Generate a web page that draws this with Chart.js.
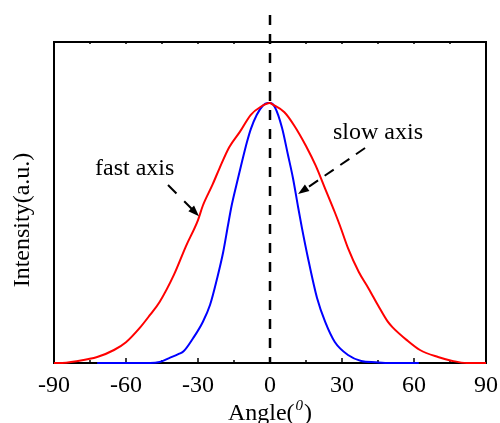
<!DOCTYPE html>
<html>
<head>
<meta charset="utf-8">
<script src="https://cdn.jsdelivr.net/npm/chart.js@4.4.1/dist/chart.umd.min.js"></script>
<style>
  body { margin: 0; background: #fff; }
  #wrap { width: 500px; height: 423px; position: relative; }
</style>
</head>
<body>
<div id="wrap"><canvas id="angleChart"></canvas></div>
<script>
// fast axis (red, wide) - angle in degrees / normalized intensity
const fastAngles = [-90, -88, -80, -72, -65, -60, -54, -50, -46, -40, -35, -30, -28, -24, -21, -17, -12.5, -8, -4, 0,
                    1, 6, 10, 15, 19, 23, 27, 29.2, 32.5, 37, 41, 45, 49, 51, 57, 62.5, 70, 76, 82, 90];
const fastIntensity = [0, 0, 0.008, 0.023, 0.05, 0.08, 0.138, 0.185, 0.235, 0.34, 0.45, 0.55, 0.605, 0.685, 0.75, 0.83, 0.89, 0.955, 0.985, 1,
                       0.995, 0.965, 0.915, 0.835, 0.76, 0.67, 0.58, 0.527, 0.442, 0.35, 0.288, 0.222, 0.16, 0.138, 0.088, 0.05, 0.023, 0.008, 0, 0];

// slow axis (blue, narrow)
const slowAngles = [-72, -50, -46, -42, -38, -36, -32, -28, -25, -22, -19.5, -17.5, -16, -14, -11.7, -9.6, -8, -5.5, -3, -1, 0,
                    2, 5, 7.5, 9.6, 11.7, 13.3, 15.8, 19.6, 23, 27, 32.5, 38, 44, 50, 62];
const slowIntensity = [0, 0, 0.004, 0.019, 0.035, 0.045, 0.096, 0.158, 0.223, 0.327, 0.427, 0.53, 0.605, 0.685, 0.773, 0.85, 0.9, 0.955, 0.99, 1, 1,
                       0.985, 0.905, 0.8, 0.71, 0.6, 0.52, 0.405, 0.25, 0.158, 0.081, 0.031, 0.008, 0.003, 0, 0];

const xTickLabels = [-90, -60, -30, 0, 30, 60, 90];
const minorTicks = [-75, -45, -15, 15, 45, 75];
const markerAngle = 0;

const toPoints = (xs, ys) => xs.map((v, i) => ({ x: v, y: ys[i] }));

// annotation labels + arrows, given in data coordinates
const notes = [
  { text: 'fast axis', tx: -72.9, ty: 0.723, from: [-42.5, 0.685], to: [-29.6, 0.565], dash: [12, 11] },
  { text: 'slow axis', tx: 26.25, ty: 0.862, from: [39.6, 0.827], to: [11.7, 0.65], dash: [11, 8] }
];

const SERIF = '"Liberation Serif", "Times New Roman", serif';

const frame = {
  id: 'frame',
  beforeDatasetsDraw(chart) {
    const { ctx, chartArea: a, scales: { x } } = chart;
    ctx.save();
    ctx.strokeStyle = '#000';
    ctx.lineWidth = 2;
    ctx.strokeRect(a.left, a.top, a.right - a.left, a.bottom - a.top);
    // inward ticks
    ctx.lineWidth = 1.5;
    ctx.beginPath();
    xTickLabels.forEach(v => {
      const px = x.getPixelForValue(v);
      ctx.moveTo(px, a.bottom); ctx.lineTo(px, a.bottom - 5);
      ctx.moveTo(px, a.top); ctx.lineTo(px, a.top + 2);
    });
    minorTicks.forEach(v => {
      const px = x.getPixelForValue(v);
      ctx.moveTo(px, a.bottom); ctx.lineTo(px, a.bottom - 3);
      ctx.moveTo(px, a.top); ctx.lineTo(px, a.top + 2);
    });
    ctx.stroke();
    ctx.restore();
  },
  afterDatasetsDraw(chart) {
    const { ctx, chartArea: a, scales: { x, y } } = chart;
    ctx.save();
    ctx.strokeStyle = '#000';
    ctx.fillStyle = '#000';

    // dashed vertical line at 0 deg, runs above the frame
    const x0 = x.getPixelForValue(markerAngle);
    ctx.lineWidth = 2.5;
    ctx.setLineDash([10, 9]);
    ctx.beginPath();
    ctx.moveTo(x0, a.top - 27);
    ctx.lineTo(x0, a.bottom);
    ctx.stroke();

    // arrows and labels
    ctx.font = '24px ' + SERIF;
    ctx.textBaseline = 'alphabetic';
    ctx.textAlign = 'left';
    notes.forEach(n => {
      const x1 = x.getPixelForValue(n.from[0]), y1 = y.getPixelForValue(n.from[1]);
      const x2 = x.getPixelForValue(n.to[0]), y2 = y.getPixelForValue(n.to[1]);
      const ang = Math.atan2(y2 - y1, x2 - x1);
      ctx.lineWidth = 2;
      ctx.setLineDash(n.dash);
      ctx.beginPath();
      ctx.moveTo(x1, y1);
      ctx.lineTo(x2 - 6 * Math.cos(ang), y2 - 6 * Math.sin(ang));
      ctx.stroke();
      ctx.setLineDash([]);
      const hl = 11, hw = 4;
      ctx.beginPath();
      ctx.moveTo(x2, y2);
      ctx.lineTo(x2 - hl * Math.cos(ang) + hw * Math.sin(ang), y2 - hl * Math.sin(ang) - hw * Math.cos(ang));
      ctx.lineTo(x2 - hl * Math.cos(ang) - hw * Math.sin(ang), y2 - hl * Math.sin(ang) + hw * Math.cos(ang));
      ctx.closePath();
      ctx.fill();
      ctx.fillText(n.text, x.getPixelForValue(n.tx), y.getPixelForValue(n.ty));
    });

    // x axis title with superscript 0
    const mainFont = '24px ' + SERIF, supFont = 'italic 15px ' + SERIF;
    ctx.font = mainFont;
    const w1 = ctx.measureText('Angle(').width, w3 = ctx.measureText(')').width;
    ctx.font = supFont;
    const w2 = ctx.measureText('0').width + 2;
    const cx = (a.left + a.right) / 2;
    let sx = cx - (w1 + w2 + w3) / 2;
    const base = a.bottom + 57;
    ctx.font = mainFont;
    ctx.fillText('Angle(', sx, base);
    ctx.font = supFont;
    ctx.fillText('0', sx + w1 + 1, base - 10);
    ctx.font = mainFont;
    ctx.fillText(')', sx + w1 + w2, base);

    // y axis title
    ctx.translate(23, 220);
    ctx.rotate(-Math.PI / 2);
    ctx.textAlign = 'center';
    ctx.textBaseline = 'middle';
    ctx.fillText('Intensity(a.u.)', 0, 0);
    ctx.restore();
  }
};

new Chart(document.getElementById('angleChart'), {
  type: 'scatter',
  data: {
    datasets: [
      {
        label: 'fast axis',
        data: toPoints(fastAngles, fastIntensity),
        showLine: true,
        borderColor: '#ff0000',
        borderWidth: 2,
        pointRadius: 0,
        cubicInterpolationMode: 'monotone',
        clip: false
      },
      {
        label: 'slow axis',
        data: toPoints(slowAngles, slowIntensity),
        showLine: true,
        borderColor: '#0000ff',
        borderWidth: 2,
        pointRadius: 0,
        cubicInterpolationMode: 'monotone',
        clip: false
      }
    ]
  },
  options: {
    responsive: true,
    maintainAspectRatio: false,
    animation: false,
    layout: { padding: { top: 42, right: 14, left: 0, bottom: 0 } },
    plugins: {
      legend: { display: false },
      tooltip: { enabled: false }
    },
    scales: {
      x: {
        type: 'linear',
        min: -90,
        max: 90,
        afterFit: s => { s.height = 60; s.paddingLeft = 0; s.paddingRight = 0; },
        afterBuildTicks: s => { s.ticks = xTickLabels.map(v => ({ value: v })); },
        grid: { display: false },
        border: { display: false },
        ticks: {
          color: '#000',
          padding: 0,
          maxRotation: 0,
          font: { family: SERIF, size: 24 },
          callback: v => String(v)
        }
      },
      y: {
        min: 0,
        max: 1.235,
        afterFit: s => { s.width = 54; },
        grid: { display: false },
        border: { display: false },
        ticks: { display: false }
      }
    }
  },
  plugins: [frame]
});
</script>
</body>
</html>
